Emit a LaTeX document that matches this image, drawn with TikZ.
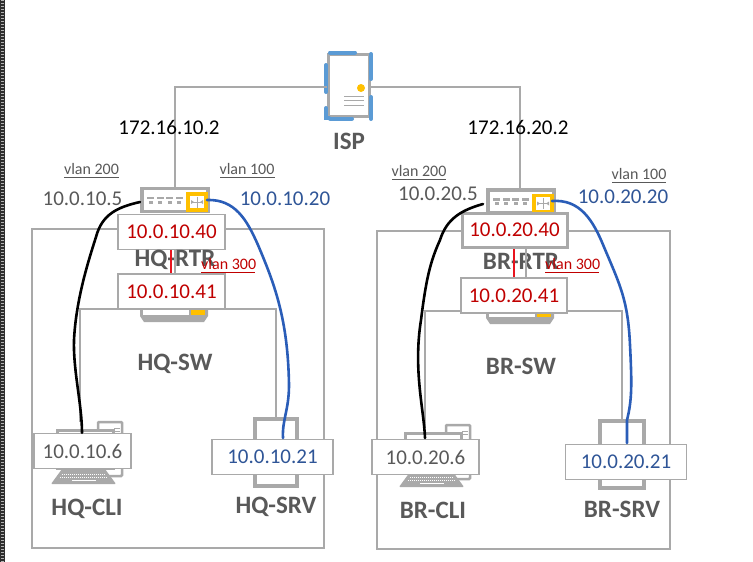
\documentclass[tikz,border=0pt]{standalone}
\usepackage{fontspec}
\setmainfont{Carlito}
\definecolor{lg}{HTML}{A9A9A9}
\definecolor{tg}{HTML}{595959}
\definecolor{ipblue}{HTML}{2F5597}
\definecolor{ipred}{HTML}{C00000}
\definecolor{brightred}{HTML}{E8141E}
\definecolor{wblue}{HTML}{5B9BD5}
\definecolor{wy}{HTML}{FFC000}
\definecolor{cblue}{HTML}{2A5DB8}
\tikzset{
 x=1pt,y=-1pt,
 wire/.style={draw=lg,line width=1.5pt},
 ipbox/.style={draw=lg,fill=white,line width=1.4pt,minimum height=35pt,inner sep=0pt,font=\fontsize{21}{23}\selectfont},
 gray text/.style={text=tg,font=\fontsize{21}{23}\selectfont,inner sep=0pt},
 blue text/.style={text=ipblue,font=\fontsize{21}{23}\selectfont,inner sep=0pt},
 name text/.style={text=tg,font=\fontsize{25}{27}\selectfont\bfseries,inner sep=0pt},
 vlan text/.style={text=tg,font=\fontsize{16}{18}\selectfont,inner sep=0pt},
 vlan red/.style={text=ipred,font=\fontsize{16}{18}\selectfont,inner sep=0pt},
 wan text/.style={text=black,font=\fontsize{21}{23}\selectfont,inner sep=0pt},
 device/.style={draw=lg,fill=white,line width=3.4pt,inner sep=0pt},
 accent/.style={draw=wblue,line width=4pt,line cap=round},
 cable/.style={line width=2.6pt,line cap=round},
}
\newcommand{\routericon}[2]{%
 \draw[device] (#1,#2) rectangle +(66,23);
 \draw[draw=wy,fill=white,line width=3.6pt] (#1+46,#2+5.5) rectangle +(18,16);
 \foreach \k in {0,1,2,3}{\fill[lg] (#1+5+\k*9.6,#2+8) rectangle +(7,2.5);\fill[lg] (#1+6.5+\k*9.6,#2+12) rectangle +(4,3);}
 \draw[lg,line width=1pt] (#1+49,#2+13.5) -- +(12,0) (#1+55,#2+8) -- +(0,11);
 \fill[lg] (#1+49,#2+11.5) -- (#1+52,#2+13.5) -- (#1+49,#2+15.5) -- cycle (#1+61,#2+11.5) -- (#1+58,#2+13.5) -- (#1+61,#2+15.5) -- cycle;
}
\newcommand{\switchbase}[2]{%
 \fill[lg] (#1,#2) -- (#1+68,#2) -- (#1+68,#2+6) -- (#1+64,#2+12) -- (#1+4,#2+12) -- (#1,#2+6) -- cycle;
 \fill[white] (#1+3,#2) rectangle (#1+49,#2+5);
 \fill[wy] (#1+51,#2) rectangle (#1+65,#2+5);
}
\newcommand{\clienticon}[2]{%
 \draw[draw=lg,fill=white,line width=2.5pt,rounded corners=1pt] (#1+44,#2) rectangle (#1+68,#2+54);
 \draw[lg,line width=1pt] (#1+60,#2+6) -- +(6,0) (#1+60,#2+9) -- +(6,0);
 \draw[draw=lg,fill=white,line width=3pt] (#1+3,#2+8) rectangle (#1+59,#2+46);
 \fill[lg,rounded corners=1pt] (#1+8,#2+47) -- (#1+51,#2+47) -- (#1+62,#2+62) -- (#1-3,#2+62) -- cycle;
 \draw[white,line width=1pt,dash pattern=on 1pt off 1pt] (#1+8,#2+52) -- +(44,0) (#1+6,#2+55) -- +(48,0);
 \draw[white,line width=1pt] (#1+18,#2+58) -- +(24,0);
}
\begin{document}
\begin{tikzpicture}
\useasboundingbox (0,0) rectangle (753,562);
\fill[white] (0,0) rectangle (753,562);
% left strip
\fill[black!82] (0,0) rectangle (5,562);
\draw[white!70!black,line width=3pt,dash pattern=on 1pt off 2pt] (2.5,0) -- (2.5,562);

% outer frames
\draw[lg,line width=1.5pt] (32,229) rectangle (324,548);
\draw[lg,line width=1.5pt] (377,231) rectangle (670,549);

% ISP
\coordinate (ispL) at (327,87);
\coordinate (ispR) at (370,87);
\node[draw=lg,fill=white,line width=3pt,minimum width=41pt,minimum height=62pt,inner sep=0pt] (isp) at (348.5,85) {};
\draw[accent] (330,52.5) -- (355,52.5);
\draw[accent] (326,65) -- (326,92);
\draw[accent] (326,108) -- (326,118) -- (329,118);
\draw[accent] (330,118.5) -- (352,118.5);
\draw[accent] (371,54) -- (371,79);
\draw[accent] (371,97) -- (371,119);
\fill[wy] (361,88) circle (4);
\draw[lg,line width=1pt] (344,96) -- +(20,0) (344,100) -- +(20,0) (344,105) -- +(20,0);
\node[name text] (ispname) at (349,141) {ISP};

% ---- HQ side
\coordinate (hqcliT) at (80,422);
\coordinate (hqsrvT) at (276,419);
\draw[wire] (hqcliT) -- (80,309) -- (276,309) -- (hqsrvT);
\switchbase{140}{310}
\routericon{142}{188.5}
\draw[wire] (ispL) -- (175,87) -- (175,187);
\node[ipbox,minimum width=107pt,text=ipred] (hq40) at (171.5,232) {10.0.10.40};
\node[ipbox,minimum width=107pt,text=ipred] (hq41) at (171.5,291.5) {10.0.10.41};
\node[name text] (hqrtr) at (175,260) {HQ-RTR};
\draw[lg,line width=1.5pt] (175,249) -- (175,274);
\draw[brightred,line width=2.4pt] (hq40.south -| 171,0) -- (hq41.north -| 171,0);
\node[vlan red,anchor=west] (hq300) at (201,264) {vlan 300};
\draw[ipred,line width=.8pt] (201,272) -- (255,272);

\node[name text] (hqsw) at (175,364) {HQ-SW};
\clienticon{54}{422}
\node[ipbox,minimum width=97pt,text=tg] (hqcli) at (82.5,451) {10.0.10.6};
\node[name text] (hqcliname) at (87,509) {HQ-CLI};
\draw[device] (255,419) rectangle (297,486);
\node[ipbox,minimum width=121pt,text=ipblue] (hqsrv) at (272.5,457) {10.0.10.21};
\node[name text] (hqsrvname) at (276,507) {HQ-SRV};

\node[wan text] (hqwan) at (169,127) {172.16.10.2};
\node[vlan text] (hqv200) at (91.5,169) {vlan 200};
\draw[tg,line width=.8pt] (64,177) -- (119,177);
\node[vlan text] (hqv100) at (247,169) {vlan 100};
\draw[tg,line width=.8pt] (220,177) -- (275,177);
\node[gray text] (hq5) at (82.5,199) {10.0.10.5};
\node[blue text] (hq20) at (285,199) {10.0.10.20};

\coordinate (hqa) at (140,202);
\coordinate (hqb) at (207,200);
\draw[cable,black] (hqa) .. controls (118,207) and (102,214) .. (96,237) .. controls (88,262) and (76,300) .. (74,340) .. controls (73,370) and (82,405) .. (hqcli.north -| 82,0);
\draw[cable,cblue] (hqb) .. controls (235,199) and (247,220) .. (258,245) .. controls (275,285) and (288,320) .. (289,385) .. controls (289,410) and (282,420) .. (283,438);

% ---- BR side
\coordinate (brcliT) at (425,428);
\coordinate (brsrvT) at (622,420);
\draw[wire] (brcliT) -- (425,311) -- (622,311) -- (brsrvT);
\switchbase{486}{312}
\routericon{488}{190}
\draw[wire] (ispR) -- (520,87) -- (520,189);
\node[ipbox,minimum width=105pt,text=ipred,line width=3pt,minimum height=34pt] (br40) at (514.5,230) {10.0.20.40};
\node[ipbox,minimum width=106pt,text=ipred] (br41) at (514,295.5) {10.0.20.41};
\node[name text] (brrtr) at (521,261) {BR-RTR};
\draw[lg,line width=1.5pt] (526,249) -- (526,278);
\draw[brightred,line width=2.4pt] (514,249) -- (br41.north -| 514,0);
\node[vlan red,anchor=west] (br300) at (545,264) {vlan 300};
\draw[ipred,line width=.8pt] (545,272) -- (599,272);

\node[name text] (brsw) at (521,366) {BR-SW};
\clienticon{402}{425}
\node[ipbox,minimum width=107pt,text=tg] (brcli) at (425.5,457) {10.0.20.6};
\node[name text] (brcliname) at (433,510) {BR-CLI};
\draw[device] (600,421) rectangle (644,488);
\node[ipbox,minimum width=121pt,text=ipblue] (brsrv) at (626,462) {10.0.20.21};
\node[name text] (brsrvname) at (622,509) {BR-SRV};

\node[wan text] (brwan) at (518,127) {172.16.20.2};
\node[vlan text] (brv200) at (419,171) {vlan 200};
\draw[tg,line width=.8pt] (392,179) -- (446,179);
\node[vlan text] (brv100) at (639,174) {vlan 100};
\draw[tg,line width=.8pt] (612,182) -- (666,182);
\node[gray text] (br5) at (438,194) {10.0.20.5};
\node[blue text] (br20) at (623,197) {10.0.20.20};

\draw[cable,black] (483,204) .. controls (462,210) and (447,218) .. (440,240) .. controls (430,262) and (426,280) .. (421,320) .. controls (413,370) and (424,410) .. (425,438);
\draw[cable,cblue] (552,201) .. controls (580,199) and (593,220) .. (604,247) .. controls (620,285) and (628,300) .. (630,345) .. controls (632,385) and (632,400) .. (627,420) -- (627,443);
\end{tikzpicture}
\end{document}
